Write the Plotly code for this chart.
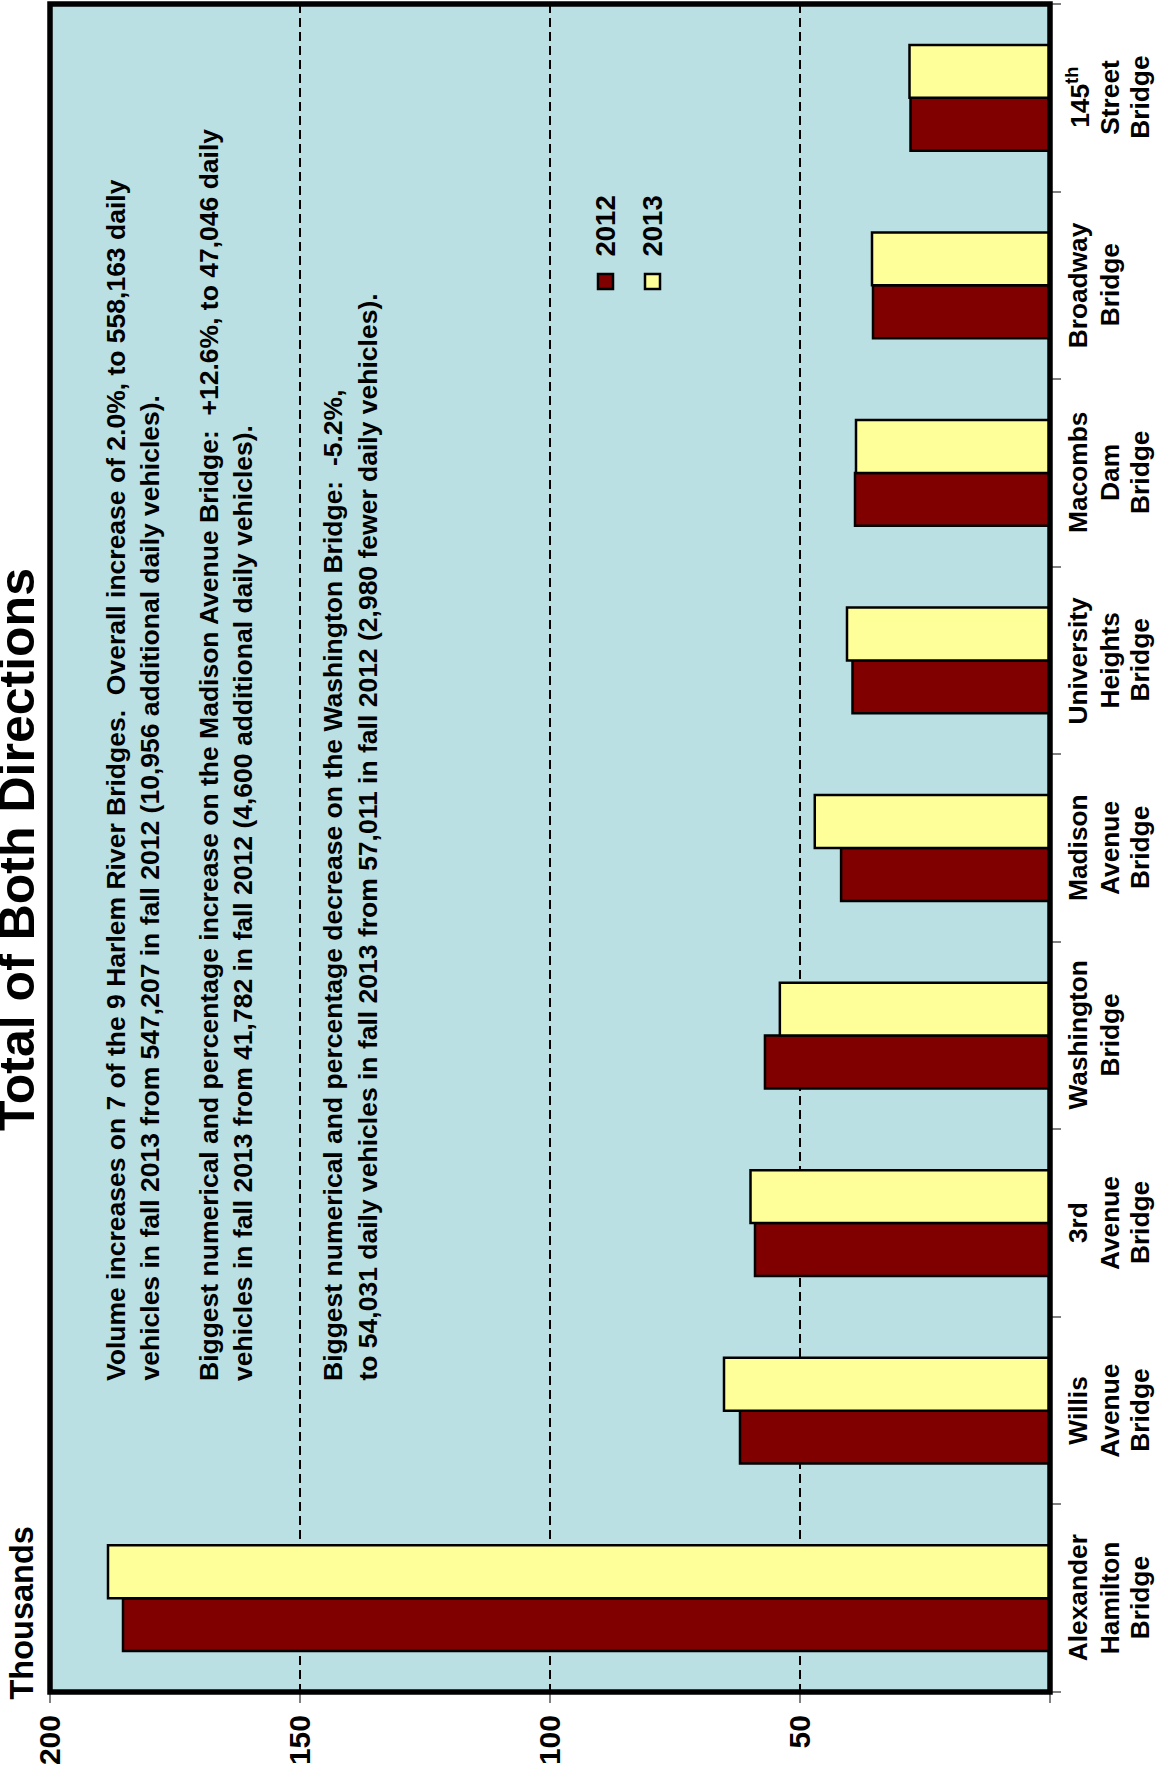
import plotly.graph_objects as go

# ---------------- data ----------------
bridges = ["Alexander Hamilton Bridge", "Willis Avenue Bridge", "3rd Avenue Bridge",
           "Washington Bridge", "Madison Avenue Bridge", "University Heights Bridge",
           "Macombs Dam Bridge", "Broadway Bridge", "145th Street Bridge"]
bridge_labels = [["Alexander", "Hamilton", "Bridge"], ["Willis", "Avenue", "Bridge"],
                 ["3rd", "Avenue", "Bridge"], ["Washington", "Bridge"],
                 ["Madison", "Avenue", "Bridge"], ["University", "Heights", "Bridge"],
                 ["Macombs", "Dam", "Bridge"], ["Broadway", "Bridge"],
                 ["145<sup>th</sup>", "Street", "Bridge"]]
vol_2012 = [185.4, 62.0, 59.0, 57.011, 41.782, 39.5, 39.0, 35.4, 27.9]   # thousands
vol_2013 = [188.4, 65.2, 59.9, 54.031, 47.046, 40.6, 38.8, 35.6, 28.1]   # thousands
years = ["2012", "2013"]
tick_vals = [50, 100, 150, 200]
tick_text = ["50", "100", "150", "200"]

title_text = "Total of Both Directions"
axis_title = "Thousands"
note_lines = [
    "Volume increases on 7 of the 9 Harlem River Bridges.  Overall increase of 2.0%, to 558,163 daily",
    "vehicles in fall 2013 from 547,207 in fall 2012 (10,956 additional daily vehicles).",
    "Biggest numerical and percentage increase on the Madison Avenue Bridge:  +12.6%, to 47,046 daily",
    "vehicles in fall 2013 from 41,782 in fall 2012 (4,600 additional daily vehicles).",
    "Biggest numerical and percentage decrease on the Washington Bridge:  -5.2%,",
    "to 54,031 daily vehicles in fall 2013 from 57,011 in fall 2012 (2,980 fewer daily vehicles).",
]

# ---------------- style ----------------
W, H = 1163, 1782
PL, PR, PT, PB = 50, 1050, 4, 1692
C2012, C2013 = "#800000", "#FFFF99"
BG = "#BBE0E3"
FONT = "Liberation Sans, Arial, Helvetica, sans-serif"


def xp(px):
    return (px - PL) / (PR - PL)


def yp(py):
    return (PB - py) / (PB - PT)


def bold(size):
    return dict(family=FONT, size=size, color="black", weight="bold")


fig = go.Figure()
fig.add_trace(go.Bar(y=bridges, x=vol_2012, orientation="h", name=years[0],
                     marker=dict(color=C2012, line=dict(color="black", width=2.5))))
fig.add_trace(go.Bar(y=bridges, x=vol_2013, orientation="h", name=years[1],
                     marker=dict(color=C2013, line=dict(color="black", width=2.5))))

ann = []
# title (partially cut at the left edge, as in the source)
ann.append(dict(text=title_text, textangle=-90, xref="paper", yref="paper",
                x=xp(17), y=yp(850), xanchor="center", yanchor="middle", showarrow=False,
                font=bold(50)))
# axis title
ann.append(dict(text=axis_title, textangle=-90, xref="paper", yref="paper",
                x=xp(21), y=yp(1702), xanchor="center", yanchor="bottom", showarrow=False,
                font=bold(32.5)))
# notes
note_x = [116, 149, 209, 243, 333, 367]
for t, px in zip(note_lines, note_x):
    ann.append(dict(text=t, textangle=-90, xref="paper", yref="paper",
                    x=xp(px), y=yp(1383), xanchor="center", yanchor="bottom", showarrow=False,
                    font=bold(26.5)))
# category labels (one annotation per text line, centred on the category)
line_x = [1078, 1110, 1140]
for b, lines in zip(bridges, bridge_labels):
    for ln, px in zip(lines, line_x):
        ann.append(dict(text=ln, textangle=-90, xref="paper", yref="y",
                        x=xp(px), y=b, xanchor="center", yanchor="middle", showarrow=False,
                        font=bold(26.3)))
# legend (rotated)
leg_x = [605, 652]
for yr, px in zip(years, leg_x):
    ann.append(dict(text=yr, textangle=-90, xref="paper", yref="paper",
                    x=xp(px), y=yp(259), xanchor="center", yanchor="bottom", showarrow=False,
                    font=bold(27.5)))

shapes = []
for col, px in zip([C2012, C2013], leg_x):
    shapes.append(dict(type="rect", xref="paper", yref="paper",
                       x0=xp(px - 7), x1=xp(px + 8), y0=yp(289), y1=yp(274),
                       fillcolor=col, line=dict(color="black", width=2.5), layer="above"))
# thick frame around plot area
shapes.append(dict(type="rect", xref="paper", yref="paper", x0=0, x1=1, y0=0, y1=1,
                   line=dict(color="black", width=5.5), layer="above"))

fig.update_layout(
    width=W, height=H,
    margin=dict(l=PL, r=W - PR, t=PT, b=H - PB, pad=0, autoexpand=False),
    paper_bgcolor="white", plot_bgcolor=BG,
    barmode="group", bargap=0.436, bargroupgap=0,
    showlegend=False,
    annotations=ann, shapes=shapes,
    xaxis=dict(range=[200, 0], tickvals=tick_vals, ticktext=tick_text,
               tickangle=-90, ticks="outside", ticklen=10, tickwidth=1.5, tickcolor="#808080",
               tickfont=bold(30),
               minor=dict(tickvals=[0], ticks="outside", ticklen=10, tickwidth=1.5,
                          tickcolor="#808080", showgrid=False),
               showgrid=True, gridcolor="black", gridwidth=2.2, griddash="9px,5px",
               showline=False, zeroline=False, fixedrange=True, automargin=False),
    yaxis=dict(side="right", showticklabels=False, ticks="outside", tickson="boundaries",
               ticklen=10, tickwidth=1.5, tickcolor="#808080",
               showgrid=False, showline=False, zeroline=False, fixedrange=True,
               automargin=False),
)

fig.write_html("out.html", config={"displayModeBar": False},
               post_script="document.body.style.margin='0';document.body.style.padding='0';")
